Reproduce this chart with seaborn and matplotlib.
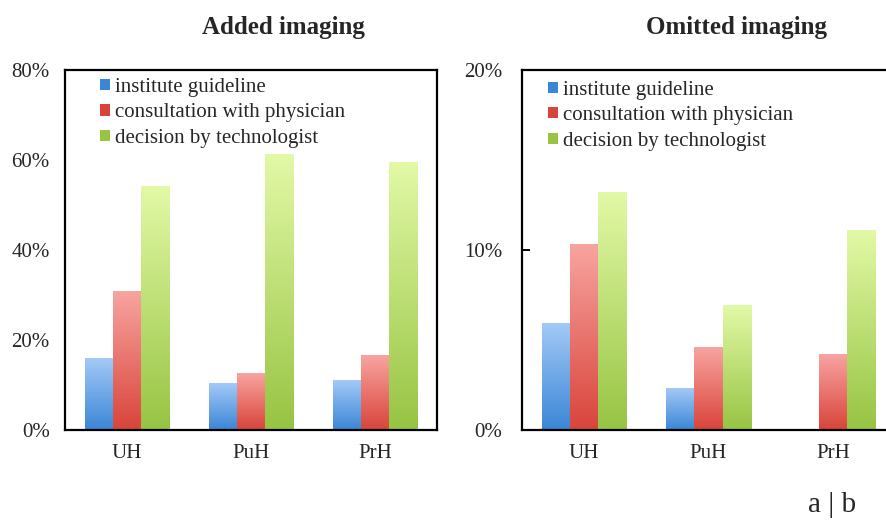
import numpy as np
import pandas as pd
import matplotlib
matplotlib.use("Agg")
import matplotlib.pyplot as plt
import seaborn as sns
from matplotlib.colors import LinearSegmentedColormap
from matplotlib.patches import Rectangle, Patch
from matplotlib.ticker import FuncFormatter

sns.set_theme(style="white")
plt.rcParams["font.family"] = ["Liberation Serif", "DejaVu Serif"]

hospitals = ["UH", "PuH", "PrH"]
reasons = ["institute guideline", "consultation with physician", "decision by technologist"]

added_guideline = [16.0, 10.4, 10.9]
added_physician = [30.7, 12.6, 16.6]
added_technologist = [54.2, 61.3, 59.4]

omitted_guideline = [5.9, 2.3, 0.0]
omitted_physician = [10.3, 4.6, 4.2]
omitted_technologist = [13.2, 6.9, 11.1]

# light (top) and dark (bottom) shade for each reason
shades = {
    "institute guideline": ("#a3c9f7", "#3a86d6"),
    "consultation with physician": ("#f8a4a0", "#d9443a"),
    "decision by technologist": ("#e2f9a6", "#97c443"),
}


def make_frame(guideline, physician, technologist):
    rows = []
    for h, a, b, c in zip(hospitals, guideline, physician, technologist):
        rows.append((h, reasons[0], a))
        rows.append((h, reasons[1], b))
        rows.append((h, reasons[2], c))
    return pd.DataFrame(rows, columns=["hospital", "reason", "pct"])


def gradient_bars(ax, n_per_hue):
    bars = [p for p in ax.patches if isinstance(p, Rectangle)]
    for i, bar in enumerate(bars[: 3 * n_per_hue]):
        reason = reasons[i // n_per_hue]
        top, bottom = shades[reason]
        cmap = LinearSegmentedColormap.from_list("g", [bottom, top])
        x, w, h = bar.get_x(), bar.get_width(), bar.get_height()
        bar.set_facecolor("none")
        bar.set_edgecolor("none")
        if h <= 0:
            continue
        grad = np.linspace(0, 1, 256).reshape(-1, 1)
        ax.imshow(grad, cmap=cmap, extent=[x, x + w, 0, h], origin="lower",
                  aspect="auto", zorder=2, interpolation="bilinear")


def legend_handles():
    return [Patch(facecolor=shades[r][1], edgecolor="none", label=r) for r in reasons]


fig = plt.figure(figsize=(8.86, 5.20), dpi=100)
ax1 = fig.add_axes([65 / 886, 90 / 520, 372 / 886, 360 / 520])
ax2 = fig.add_axes([522 / 886, 90 / 520, 373 / 886, 360 / 520])

panels = [
    (ax1, make_frame(added_guideline, added_physician, added_technologist), 80,
     [0, 20, 40, 60, 80], "Added imaging", 0.586, (0.056, 1.019), 11),
    (ax2, make_frame(omitted_guideline, omitted_physician, omitted_technologist), 20,
     [0, 10, 20], "Omitted imaging", 0.576, (0.031, 1.011), 14),
]

for ax, df, ymax, ticks, title, tx, anchor, ypad in panels:
    sns.barplot(data=df, x="hospital", y="pct", hue="reason", hue_order=reasons,
                order=hospitals, ax=ax, width=0.68, errorbar=None, legend=False,
                saturation=1)
    gradient_bars(ax, len(hospitals))
    ax.set_xlim(-0.5, 2.5)
    ax.set_ylim(0, ymax)
    ax.set_yticks(ticks)
    ax.yaxis.set_major_formatter(FuncFormatter(lambda v, p: f"{v:.0f}%"))
    ax.set_xlabel("")
    ax.set_ylabel("")
    ax.tick_params(axis="both", labelsize=15, length=0)
    ax.tick_params(axis="x", pad=10)
    ax.tick_params(axis="y", pad=ypad)
    for s in ax.spines.values():
        s.set_visible(True)
        s.set_color("black")
        s.set_linewidth(1.6)
    ax.legend(handles=legend_handles(), loc="upper left", bbox_to_anchor=anchor,
              frameon=False, fontsize=15, handlelength=0.45, handleheight=0.45,
              handletextpad=0.25, labelspacing=0.32, borderaxespad=0.3)
    ax.set_title(title, fontsize=18, fontweight="bold", x=tx, pad=26)

# short inward gridmarks on the right panel's value axis
ax2.set_axisbelow(False)
ax2.tick_params(axis="y", left=True, direction="in", length=6, width=1.4,
                color="black", pad=14)

fig.text(808 / 886, 1 - 505 / 520, "a | b", fontsize=21, va="center", ha="left")

fig.savefig("out.png", dpi=100)
